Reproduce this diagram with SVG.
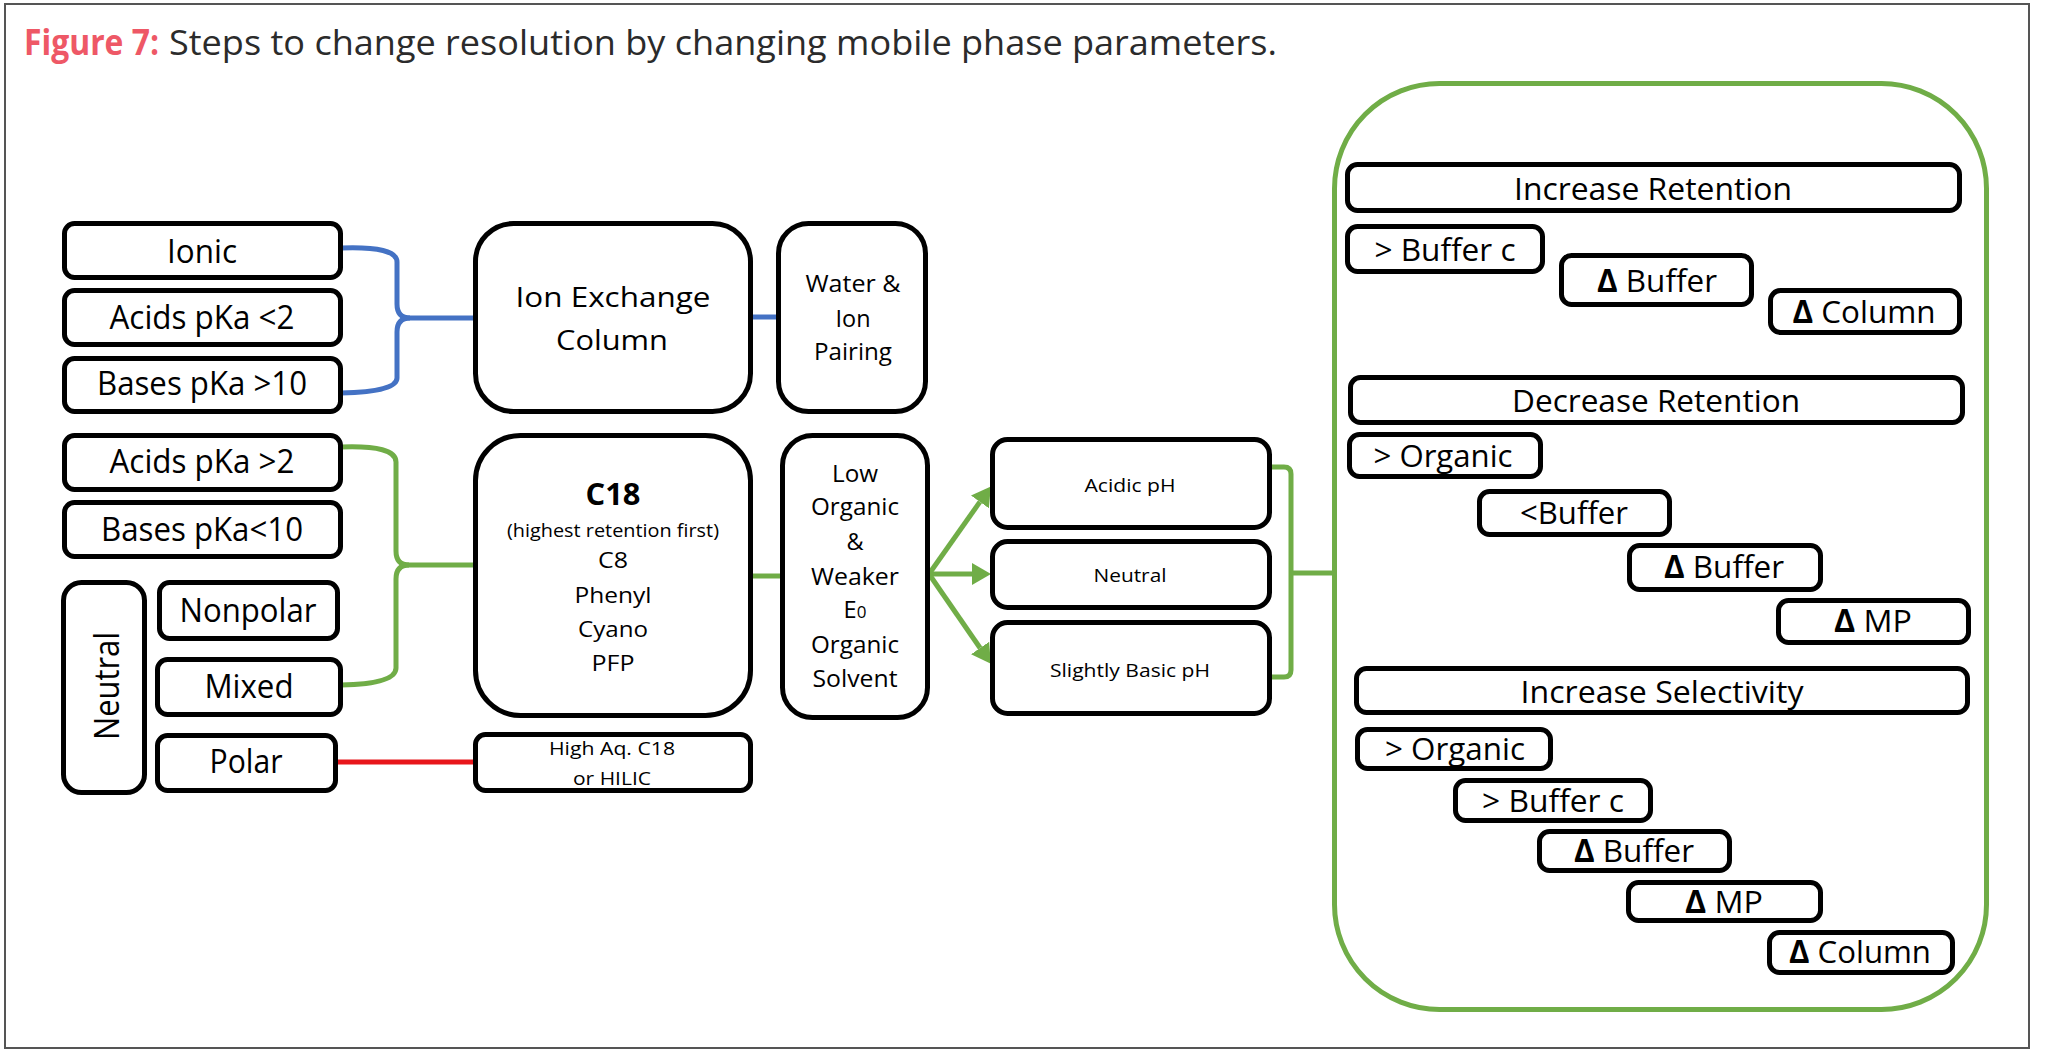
<svg xmlns="http://www.w3.org/2000/svg" width="2049" height="1054" viewBox="0 0 2049 1054">
<style>
.box{fill:#fff;stroke:#000;stroke-width:5}
.t{font-family:"Open Sans","Noto Sans","Liberation Sans",sans-serif;fill:#000;text-anchor:middle}
.l{font-size:32px}
.r{font-size:31.5px}
.s{font-size:18.6px}
.m{font-size:23.5px}
.b{font-weight:bold}
.blue{fill:none;stroke:#4472c4;stroke-width:5}
.green{fill:none;stroke:#70ad47;stroke-width:5}
.red{fill:none;stroke:#e8161b;stroke-width:5}
</style>
<defs>
<marker id="ah" markerUnits="userSpaceOnUse" markerWidth="20" markerHeight="22" refX="0" refY="11" orient="auto">
<path d="M0,0 L19,11 L0,22 Z" fill="#70ad47"/>
</marker>
</defs>
<rect x="0" y="0" width="2049" height="1054" fill="#fff"/>
<rect x="5" y="4" width="2024" height="1044" fill="none" stroke="#555" stroke-width="2"/>
<text x="24" y="55" font-family="'Open Sans','Noto Sans',sans-serif" font-size="35" fill="#ee5866" font-weight="bold" textLength="135" lengthAdjust="spacingAndGlyphs">Figure 7:</text>
<text x="169" y="55" font-family="'Open Sans','Noto Sans',sans-serif" font-size="35" fill="#2b2b2b" textLength="1108" lengthAdjust="spacingAndGlyphs">Steps to change resolution by changing mobile phase parameters.</text>

<g id="connectors">
<path class="blue" d="M341,248 Q397,246 397,262 L397,304 Q397,318 410,318 L475,318"/>
<path class="blue" d="M410,318 Q397,318 397,332 L397,378 Q397,392 341,393"/>
<path class="blue" d="M751,317 L779,317"/>
<path class="green" d="M341,447 Q396,445 396,462 L396,551 Q396,565 409,565 L475,565"/>
<path class="green" d="M409,565 Q396,565 396,579 L396,668 Q396,684 341,685"/>
<path class="green" d="M751,576 L783,576"/>
<path class="red" d="M336,762 L475,762"/>
<path fill="none" stroke="#70ad47" stroke-width="4" d="M725,467 L725,667" marker-end="url(#ah)"/>
<path class="green" d="M929,574 L979.9,501.9" marker-end="url(#ah)"/>
<path class="green" d="M929,574 L972,574" marker-end="url(#ah)"/>
<path class="green" d="M929,574 L980.1,648" marker-end="url(#ah)"/>
<path class="green" d="M1270,467 L1284,467 Q1291,467 1291,474 L1291,670 Q1291,677 1284,677 L1270,677"/>
<path class="green" d="M1291,573 L1335,573"/>
</g>

<g id="n-ionic"><rect class="box" x="64.5" y="223.5" width="276" height="54" rx="10"/><text class="t l" x="202" y="263" textLength="70" lengthAdjust="spacingAndGlyphs">Ionic</text></g>
<g id="n-acids-lt2"><rect class="box" x="64.5" y="290.5" width="276" height="54" rx="10"/><text class="t l" x="202" y="329" textLength="185" lengthAdjust="spacingAndGlyphs">Acids pKa &lt;2</text></g>
<g id="n-bases-gt10"><rect class="box" x="64.5" y="358.5" width="276" height="53" rx="10"/><text class="t l" x="202" y="395" textLength="210" lengthAdjust="spacingAndGlyphs">Bases pKa &gt;10</text></g>
<g id="n-acids-gt2"><rect class="box" x="64.5" y="435.5" width="276" height="54" rx="10"/><text class="t l" x="202" y="473" textLength="185" lengthAdjust="spacingAndGlyphs">Acids pKa &gt;2</text></g>
<g id="n-bases-lt10"><rect class="box" x="64.5" y="502.5" width="276" height="54" rx="10"/><text class="t l" x="202" y="541" textLength="202" lengthAdjust="spacingAndGlyphs">Bases pKa&lt;10</text></g>
<g id="n-neutral"><rect class="box" x="63.5" y="582.5" width="81" height="210" rx="18"/><text class="t" font-size="34" transform="translate(119,686) rotate(-90)" textLength="108" lengthAdjust="spacingAndGlyphs">Neutral</text></g>
<g id="n-nonpolar"><rect class="box" x="159.5" y="582.5" width="178" height="56" rx="10"/><text class="t l" x="248" y="622" textLength="137" lengthAdjust="spacingAndGlyphs">Nonpolar</text></g>
<g id="n-mixed"><rect class="box" x="157.5" y="659.5" width="183" height="55" rx="10"/><text class="t l" x="249" y="698" textLength="89" lengthAdjust="spacingAndGlyphs">Mixed</text></g>
<g id="n-polar"><rect class="box" x="157.5" y="735.5" width="178" height="55" rx="10"/><text class="t l" x="246" y="773" textLength="73" lengthAdjust="spacingAndGlyphs">Polar</text></g>

<g id="n-ionexchange"><rect class="box" x="475.5" y="223.5" width="275" height="188" rx="38"/><text class="t" font-size="28" x="613" y="307" textLength="195" lengthAdjust="spacingAndGlyphs">Ion Exchange</text><text class="t" font-size="28" x="612" y="350" textLength="112" lengthAdjust="spacingAndGlyphs">Column</text></g>
<g id="n-water"><rect class="box" x="778.5" y="223.5" width="147" height="188" rx="30"/><text class="t m" x="853" y="292" textLength="95" lengthAdjust="spacingAndGlyphs">Water &amp;</text><text class="t m" x="853" y="327" textLength="35" lengthAdjust="spacingAndGlyphs">Ion</text><text class="t m" x="853" y="360" textLength="78" lengthAdjust="spacingAndGlyphs">Pairing</text></g>
<g id="n-c18"><rect class="box" x="475.5" y="435.5" width="275" height="280" rx="45"/>
<text class="t b" font-size="30" x="613" y="505" textLength="55" lengthAdjust="spacingAndGlyphs">C18</text>
<text class="t" font-size="18" x="613" y="537" textLength="212" lengthAdjust="spacingAndGlyphs">(highest retention first)</text>
<text class="t" font-size="22" x="613" y="568" textLength="30" lengthAdjust="spacingAndGlyphs">C8</text>
<text class="t" font-size="22" x="613" y="603" textLength="77" lengthAdjust="spacingAndGlyphs">Phenyl</text>
<text class="t" font-size="22" x="613" y="637" textLength="70" lengthAdjust="spacingAndGlyphs">Cyano</text>
<text class="t" font-size="22" x="613" y="671" textLength="43" lengthAdjust="spacingAndGlyphs">PFP</text></g>
<g id="n-loworganic"><rect class="box" x="782.5" y="435.5" width="145" height="282" rx="30"/>
<text class="t m" x="855" y="482" textLength="46" lengthAdjust="spacingAndGlyphs">Low</text>
<text class="t m" x="855" y="515" textLength="88" lengthAdjust="spacingAndGlyphs">Organic</text>
<text class="t m" x="855" y="550">&amp;</text>
<text class="t m" x="855" y="585" textLength="88" lengthAdjust="spacingAndGlyphs">Weaker</text>
<text class="t m" x="855" y="618">E<tspan font-size="17">0</tspan></text>
<text class="t m" x="855" y="653" textLength="88" lengthAdjust="spacingAndGlyphs">Organic</text>
<text class="t m" x="855" y="687" textLength="85" lengthAdjust="spacingAndGlyphs">Solvent</text></g>
<g id="n-highaq"><rect class="box" x="475.5" y="734.5" width="275" height="56" rx="10"/><text class="t s" x="612" y="755" textLength="126" lengthAdjust="spacingAndGlyphs">High Aq. C18</text><text class="t s" x="612" y="785" textLength="78" lengthAdjust="spacingAndGlyphs">or HILIC</text></g>

<g id="n-acidic"><rect class="box" x="992.5" y="439.5" width="277" height="88" rx="15"/><text class="t s" x="1130" y="492" textLength="91" lengthAdjust="spacingAndGlyphs">Acidic pH</text></g>
<g id="n-neutralph"><rect class="box" x="992.5" y="541.5" width="277" height="66" rx="15"/><text class="t s" x="1130" y="582" textLength="73" lengthAdjust="spacingAndGlyphs">Neutral</text></g>
<g id="n-basic"><rect class="box" x="992.5" y="622.5" width="277" height="91" rx="15"/><text class="t s" x="1130" y="677" textLength="160" lengthAdjust="spacingAndGlyphs">Slightly Basic pH</text></g>

<g id="n-panel"><rect x="1334.5" y="83.5" width="652" height="926" rx="105" fill="none" stroke="#70ad47" stroke-width="5"/></g>

<g id="n-incret"><rect class="box" x="1347.5" y="164.5" width="612" height="46" rx="10"/><text class="t r" x="1653" y="200" textLength="278" lengthAdjust="spacingAndGlyphs">Increase Retention</text></g>
<g id="n-ir-bufc"><rect class="box" x="1347.5" y="226.5" width="195" height="45" rx="10"/><text class="t r" x="1445" y="261" textLength="141" lengthAdjust="spacingAndGlyphs">&gt; Buffer c</text></g>
<g id="n-ir-dbuf"><rect class="box" x="1561.5" y="255.5" width="190" height="49" rx="10"/><text class="t r" x="1657" y="292" textLength="120" lengthAdjust="spacingAndGlyphs"><tspan class="b">Δ</tspan> Buffer</text></g>
<g id="n-ir-dcol"><rect class="box" x="1770.5" y="290.5" width="189" height="42" rx="10"/><text class="t r" x="1864" y="323" textLength="143" lengthAdjust="spacingAndGlyphs"><tspan class="b">Δ</tspan> Column</text></g>

<g id="n-decret"><rect class="box" x="1350.5" y="377.5" width="612" height="45" rx="10"/><text class="t r" x="1656" y="412" textLength="288" lengthAdjust="spacingAndGlyphs">Decrease Retention</text></g>
<g id="n-dr-org"><rect class="box" x="1349.5" y="434.5" width="191" height="42" rx="10"/><text class="t r" x="1443" y="467" textLength="139" lengthAdjust="spacingAndGlyphs">&gt; Organic</text></g>
<g id="n-dr-buf"><rect class="box" x="1479.5" y="491.5" width="190" height="43" rx="10"/><text class="t r" x="1574" y="524" textLength="108" lengthAdjust="spacingAndGlyphs">&lt;Buffer</text></g>
<g id="n-dr-dbuf"><rect class="box" x="1629.5" y="545.5" width="191" height="44" rx="10"/><text class="t r" x="1724" y="578" textLength="120" lengthAdjust="spacingAndGlyphs"><tspan class="b">Δ</tspan> Buffer</text></g>
<g id="n-dr-dmp"><rect class="box" x="1778.5" y="600.5" width="190" height="42" rx="10"/><text class="t r" x="1873" y="632" textLength="78" lengthAdjust="spacingAndGlyphs"><tspan class="b">Δ</tspan> MP</text></g>

<g id="n-incsel"><rect class="box" x="1356.5" y="668.5" width="611" height="44" rx="10"/><text class="t r" x="1662" y="703" textLength="283" lengthAdjust="spacingAndGlyphs">Increase Selectivity</text></g>
<g id="n-is-org"><rect class="box" x="1357.5" y="729.5" width="193" height="39" rx="10"/><text class="t r" x="1455" y="760" textLength="140" lengthAdjust="spacingAndGlyphs">&gt; Organic</text></g>
<g id="n-is-bufc"><rect class="box" x="1455.5" y="780.5" width="195" height="40" rx="10"/><text class="t r" x="1553" y="812" textLength="142" lengthAdjust="spacingAndGlyphs">&gt; Buffer c</text></g>
<g id="n-is-dbuf"><rect class="box" x="1539.5" y="831.5" width="190" height="39" rx="10"/><text class="t r" x="1634" y="862" textLength="120" lengthAdjust="spacingAndGlyphs"><tspan class="b">Δ</tspan> Buffer</text></g>
<g id="n-is-dmp"><rect class="box" x="1628.5" y="882.5" width="192" height="38" rx="10"/><text class="t r" x="1724" y="913" textLength="78" lengthAdjust="spacingAndGlyphs"><tspan class="b">Δ</tspan> MP</text></g>
<g id="n-is-dcol"><rect class="box" x="1769.5" y="932.5" width="183" height="40" rx="10"/><text class="t r" x="1860" y="963" textLength="142" lengthAdjust="spacingAndGlyphs"><tspan class="b">Δ</tspan> Column</text></g>
</svg>
